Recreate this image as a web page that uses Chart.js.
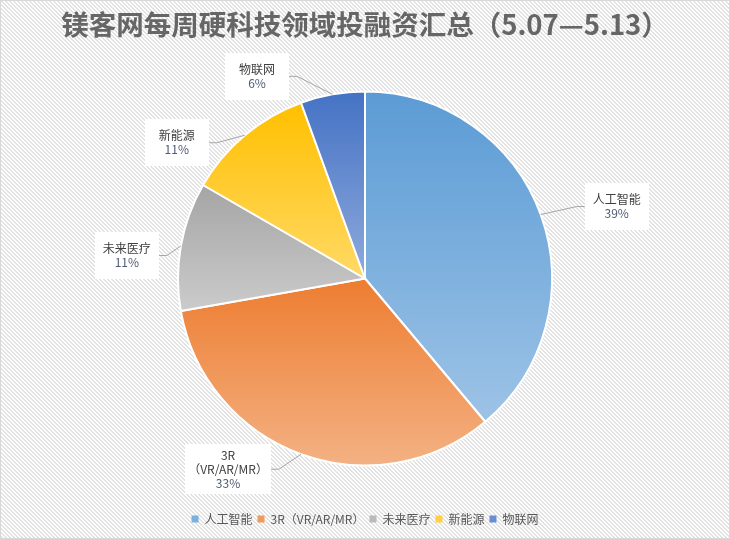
<!DOCTYPE html>
<html>
<head>
<meta charset="utf-8">
<script src="https://cdn.jsdelivr.net/npm/chart.js@4"></script>
<style>
  html, body { margin: 0; padding: 0; background: #fff; }
  #wrap { width: 730px; height: 539px; }
</style>
</head>
<body>
<div id="wrap"><canvas id="c" width="730" height="539"></canvas></div>
<script>
// ---- data ----
const titleText = '镁客网每周硬科技领域投融资汇总（5.07—5.13）';
const categories = ['人工智能', '3R（VR/AR/MR）', '未来医疗', '新能源', '物联网'];
const values = [7, 6, 2, 2, 1];

// ---- styles ----
const topColors = ['#5B9BD5', '#ED7D31', '#A5A5A5', '#FFC000', '#4472C4'];
const bottomColors = ['#9DC3E6', '#F4B183', '#CBCBCB', '#FFD966', '#8FAADC'];
const legendColors = ['#7CB0E0', '#F19A5E', '#BBBBBB', '#FFCF45', '#6A8ED2'];
const labelOffsets = [[76, -8], [-73, 15], [-54, 9.5], [-68, 7.5], [-75.5, -18]];
const PIE_RADIUS = 187;
const FONT = '"Noto Sans CJK SC", "Microsoft YaHei", sans-serif';

Chart.defaults.font.family = FONT;

const total = values.reduce((a, b) => a + b, 0);

function sliceGradient(ctx) {
  const i = ctx.dataIndex;
  const chart = ctx.chart;
  const area = chart.chartArea;
  if (!area || i === undefined) return topColors[i] || '#ccc';
  const cx = (area.left + area.right) / 2;
  const cy = (area.top + area.bottom) / 2;
  let start = -Math.PI / 2;
  for (let k = 0; k < i; k++) start += values[k] / total * Math.PI * 2;
  const end = start + values[i] / total * Math.PI * 2;
  const ys = [cy, cy + PIE_RADIUS * Math.sin(start), cy + PIE_RADIUS * Math.sin(end)];
  for (const a of [-Math.PI / 2, Math.PI / 2, Math.PI * 1.5]) {
    if (a >= start && a <= end) ys.push(cy + PIE_RADIUS * Math.sin(a));
  }
  const y0 = Math.min(...ys), y1 = Math.max(...ys);
  const g = chart.ctx.createLinearGradient(0, y0, 0, y1);
  g.addColorStop(0, topColors[i]);
  g.addColorStop(1, bottomColors[i]);
  return g;
}

const backgroundPlugin = {
  id: 'hatchBg',
  beforeDraw(chart) {
    const ctx = chart.ctx;
    const tile = document.createElement('canvas');
    tile.width = 4; tile.height = 4;
    const t = tile.getContext('2d');
    t.fillStyle = '#ffffff';
    t.fillRect(0, 0, 4, 4);
    t.fillStyle = '#e2e2e2';
    for (let y = 0; y < 4; y++) {
      for (let x = 0; x < 4; x++) {
        const d = ((x - y) % 4 + 4) % 4;
        if (d === 0 || d === 1) t.fillRect(x, y, 1, 1);
      }
    }
    ctx.save();
    ctx.fillStyle = ctx.createPattern(tile, 'repeat');
    ctx.fillRect(0, 0, chart.width, chart.height);
    ctx.strokeStyle = '#d9d9d9';
    ctx.lineWidth = 1;
    ctx.strokeRect(0.5, 0.5, chart.width - 1, chart.height - 1);
    ctx.restore();
  }
};

const labelPlugin = {
  id: 'pieLabels',
  afterDatasetsDraw(chart) {
    const ctx = chart.ctx;
    const meta = chart.getDatasetMeta(0);
    const lh = 14;
    ctx.save();
    const items = meta.data.map((arc, i) => {
      const p = arc.getProps(['x', 'y', 'startAngle', 'endAngle', 'outerRadius'], true);
      const mid = (p.startAngle + p.endAngle) / 2;
      const ex = p.x + Math.cos(mid) * p.outerRadius;
      const ey = p.y + Math.sin(mid) * p.outerRadius;
      const name = categories[i];
      const idx = name.indexOf('（');
      const nameLines = idx > 0 ? [name.slice(0, idx), name.slice(idx)] : [name];
      const pct = Math.round(values[i] / total * 100) + '%';
      const lines = nameLines.concat([pct]);
      ctx.font = '12px ' + FONT;
      const w = Math.max(...lines.map(s => ctx.measureText(s).width));
      const h = lines.length * lh;
      const tx = ex + labelOffsets[i][0];
      const ty = ey + labelOffsets[i][1];
      const bw = Math.max(w + 6, 64);
      const bh = Math.max(h + 8, 47);
      return { ex, ey, tx, ty, bw, bh, lines, nameCount: nameLines.length };
    });
    // leader lines
    ctx.strokeStyle = '#a6a6a6';
    ctx.lineWidth = 1;
    items.forEach(it => {
      const right = it.tx > it.ex;
      const sx = right ? it.tx - it.bw / 2 : it.tx + it.bw / 2;
      ctx.beginPath();
      ctx.moveTo(sx, it.ty);
      ctx.lineTo(sx + (right ? -8 : 8), it.ty);
      ctx.lineTo(it.ex, it.ey);
      ctx.stroke();
    });
    // boxes and text
    items.forEach(it => {
      ctx.fillStyle = '#ffffff';
      ctx.fillRect(Math.round(it.tx - it.bw / 2), Math.round(it.ty - it.bh / 2), Math.round(it.bw), Math.round(it.bh));
      ctx.textAlign = 'center';
      ctx.textBaseline = 'middle';
      ctx.font = '12px ' + FONT;
      const y0 = it.ty - (it.lines.length - 1) * lh / 2;
      it.lines.forEach((s, k) => {
        ctx.fillStyle = k < it.nameCount ? '#404040' : '#4f5b73';
        ctx.fillText(s, it.tx, y0 + k * lh);
      });
    });
    ctx.restore();
  }
};

new Chart(document.getElementById('c'), {
  type: 'pie',
  data: {
    labels: categories,
    datasets: [{
      data: values,
      backgroundColor: sliceGradient,
      borderColor: '#ffffff',
      borderWidth: 2,
      radius: PIE_RADIUS
    }]
  },
  options: {
    responsive: false,
    devicePixelRatio: 1,
    animation: false,
    layout: { padding: { bottom: 4 } },
    plugins: {
      title: {
        display: true,
        text: titleText,
        color: '#666666',
        font: { size: 27.5, weight: 'bold', family: FONT },
        padding: { top: 8, bottom: 8 }
      },
      legend: {
        display: true,
        position: 'bottom',
        labels: {
          boxWidth: 7,
          boxHeight: 7,
          padding: 5,
          color: '#595959',
          font: { size: 12, family: FONT },
          generateLabels: () => categories.map((c, i) => ({
            text: c,
            fillStyle: legendColors[i],
            strokeStyle: legendColors[i],
            lineWidth: 0,
            hidden: false,
            index: i,
            fontColor: '#595959'
          }))
        }
      },
      tooltip: { enabled: false }
    }
  },
  plugins: [backgroundPlugin, labelPlugin]
});
</script>
</body>
</html>
